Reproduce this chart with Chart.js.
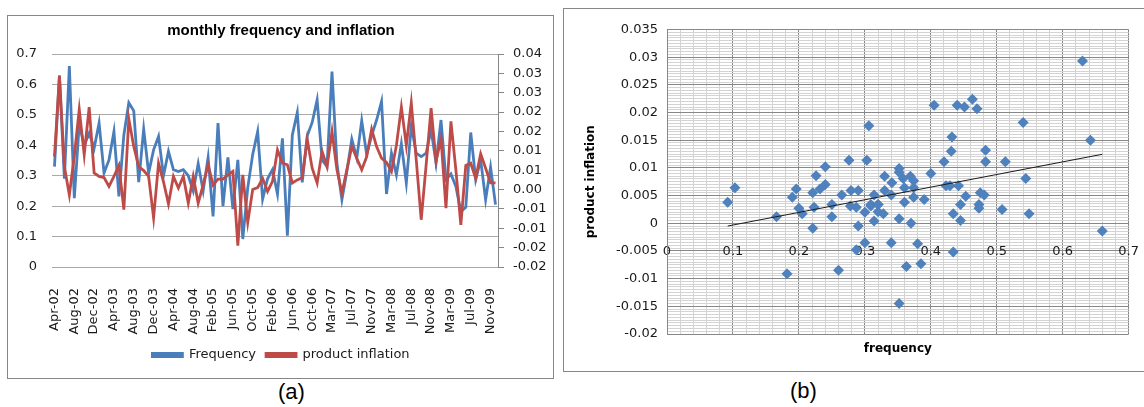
<!DOCTYPE html>
<html>
<head>
<meta charset="utf-8">
<script src="https://cdn.jsdelivr.net/npm/chart.js@4.4.1/dist/chart.umd.min.js"></script>
<style>
  body { margin: 0; width: 1144px; height: 407px; overflow: hidden; background: #fff; position: relative; font-family: 'Liberation Sans', Arial, sans-serif; }
  .frame { position: absolute; border: 1px solid #878787; background: #fff; overflow: hidden; }
  .frame canvas { position: absolute; left: 1px; top: 1px; }
  .cap { position: absolute; font-size: 22px; color: #000; }
</style>
</head>
<body>
<div class="frame" style="left:7px;top:15px;width:545px;height:362px;"><canvas id="lineChart" width="544" height="360"></canvas></div>
<div class="frame" style="left:563px;top:8px;width:600px;height:362px;"><canvas id="scatterChart" width="595" height="361"></canvas></div>
<div class="cap" style="left:278px;top:379px;">(a)</div>
<div class="cap" style="left:790px;top:378px;">(b)</div>

<script>
// ── data ──────────────────────────────────────────────
const months = [
  'Apr-02','May-02','Jun-02','Jul-02','Aug-02','Sep-02','Oct-02','Nov-02','Dec-02',
  'Jan-03','Feb-03','Mar-03','Apr-03','May-03','Jun-03','Jul-03','Aug-03','Sep-03','Oct-03','Nov-03','Dec-03',
  'Jan-04','Feb-04','Mar-04','Apr-04','May-04','Jun-04','Jul-04','Aug-04','Sep-04','Oct-04',
  'Jan-05','Feb-05','Mar-05','Apr-05','May-05','Jun-05','Jul-05','Aug-05','Sep-05','Oct-05','Nov-05','Dec-05',
  'Jan-06','Feb-06','Mar-06','Apr-06','May-06','Jun-06','Jul-06','Aug-06','Sep-06','Oct-06','Nov-06','Dec-06',
  'Feb-07','Mar-07','Apr-07','May-07','Jun-07','Jul-07','Aug-07','Sep-07','Oct-07','Nov-07','Dec-07',
  'Jan-08','Feb-08','Mar-08','Apr-08','May-08','Jun-08','Jul-08','Aug-08','Sep-08','Oct-08','Nov-08','Dec-08',
  'Jan-09','Feb-09','Mar-09','Apr-09','May-09','Jun-09','Jul-09','Aug-09','Sep-09','Oct-09','Nov-09','Dec-09'
];

const frequency = [
  0.33, 0.63, 0.29, 0.66, 0.226, 0.47, 0.40, 0.44, 0.39, 0.473,
  0.309, 0.352, 0.445, 0.232, 0.434, 0.54, 0.513, 0.279, 0.453, 0.309,
  0.385, 0.429, 0.30, 0.38, 0.32, 0.314, 0.32, 0.30, 0.25, 0.34,
  0.25, 0.36, 0.166, 0.473, 0.20, 0.36, 0.19, 0.352, 0.092, 0.26,
  0.37, 0.445, 0.223, 0.29, 0.32, 0.24, 0.423, 0.103, 0.434, 0.508,
  0.278, 0.431, 0.475, 0.549, 0.352, 0.33, 0.642, 0.34, 0.221, 0.314,
  0.42, 0.358, 0.481, 0.369, 0.432, 0.483, 0.544, 0.24, 0.374, 0.303,
  0.405, 0.276, 0.463, 0.374, 0.363, 0.374, 0.451, 0.341, 0.483, 0.287,
  0.306, 0.265, 0.182, 0.196, 0.442, 0.287, 0.352, 0.221, 0.328, 0.205
];

const inflation = [
  0.0085, 0.0293, 0.0059, -0.0014, 0.0086, 0.0207, 0.0090, 0.0213, 0.0043, 0.0034,
  0.0031, 0.0008, 0.0034, 0.0062, -0.0052, 0.0182, 0.0111, 0.0059, 0.0049, 0.0034,
  -0.0073, 0.0068, 0.0020, -0.0037, 0.0034, 0.0004, 0.0034, -0.0035, 0.0034, -0.0035,
  0.0012, 0.0064, 0.0012, 0.0027, 0.0027, 0.0038, 0.0047, -0.0145, 0.0038, -0.0085,
  0.0000, 0.0005, 0.0029, -0.0005, 0.0021, 0.0102, 0.0068, 0.0064, 0.0017, 0.0025,
  0.0031, 0.0130, 0.0055, 0.0017, 0.0099, 0.0059, 0.0150, 0.0051, -0.0009, 0.0051,
  0.0111, 0.0081, 0.0051, 0.0085, 0.0156, 0.0111, 0.0081, 0.0070, 0.0047, 0.0114,
  0.0213, 0.0114, 0.0224, 0.0077, -0.0078, 0.0064, 0.0210, 0.0073, 0.0132, -0.0048,
  0.0176, 0.0051, -0.0091, 0.0062, 0.0068, 0.0029, 0.0092, 0.0055, 0.0017, 0.0017
];

// tick labels (bottom to top / left to right)
const freqTickLabels  = ['0', '0.1', '0.2', '0.3', '0.4', '0.5', '0.6', '0.7'];
const inflTickLabels  = ['-0.02', '-0.02', '-0.01', '-0.01', '0.00', '0.01', '0.01', '0.02', '0.02', '0.03', '0.03', '0.04'];
const scatterXLabels  = ['0', '0.1', '0.2', '0.3', '0.4', '0.5', '0.6', '0.7'];
const scatterYLabels  = ['-0.02', '-0.015', '-0.01', '-0.005', '0', '0.005', '0.01', '0.015', '0.02', '0.025', '0.03', '0.035'];

// ── helpers ───────────────────────────────────────────
const TXT = '#1a1a1a';
const MAJOR = '#878787';
const MINOR = '#d3d3d3';

function majorIndex(v, base, step) {
  const k = (v - base) / step;
  return Math.abs(k - Math.round(k)) < 1e-6 ? Math.round(k) : -1;
}

// least squares trend over the scatter, drawn across the data range
function trendLine(xs, ys) {
  const n = xs.length;
  const mx = xs.reduce((a, b) => a + b, 0) / n;
  const my = ys.reduce((a, b) => a + b, 0) / n;
  let sxy = 0, sxx = 0;
  for (let i = 0; i < n; i++) {
    sxy += (xs[i] - mx) * (ys[i] - my);
    sxx += (xs[i] - mx) * (xs[i] - mx);
  }
  const b = sxy / sxx, a = my - b * mx;
  const x0 = Math.min(...xs), x1 = Math.max(...xs);
  return [{ x: x0, y: a + b * x0 }, { x: x1, y: a + b * x1 }];
}

Chart.defaults.font.family = "'DejaVu Sans', sans-serif";
Chart.defaults.color = TXT;

// ── (a) monthly frequency and inflation ───────────────
new Chart(document.getElementById('lineChart'), {
  type: 'line',
  data: {
    labels: months,
    datasets: [
      {
        label: 'Frequency', data: frequency, yAxisID: 'y',
        borderColor: '#4a7ebb', backgroundColor: '#4a7ebb',
        borderWidth: 2.8, pointRadius: 0, tension: 0, order: 1,
      },
      {
        label: 'product inflation', data: inflation, yAxisID: 'y1',
        borderColor: '#be4b48', backgroundColor: '#be4b48',
        borderWidth: 2.8, pointRadius: 0, tension: 0, order: 0,
      },
    ],
  },
  options: {
    responsive: false, animation: false, devicePixelRatio: 1,
    layout: { padding: { bottom: 5.5 } },
    plugins: {
      title: {
        display: true, text: 'monthly frequency and inflation', color: '#000',
        font: { family: "'Liberation Sans', Arial, sans-serif", size: 15, weight: 'bold', lineHeight: 1.2 },
        padding: { top: 4.5, bottom: 14.5 },
      },
      legend: {
        position: 'bottom', reverse: true,
        labels: { boxWidth: 30, boxHeight: 3, padding: 10, color: TXT, font: { size: 13 } },
      },
      tooltip: { enabled: false },
    },
    scales: {
      x: {
        offset: true,
        grid: { display: false },
        border: { display: false },
        ticks: {
          autoSkip: false, minRotation: 90, maxRotation: 90, padding: 13,
          font: { size: 13 },
          callback: (v, i) => (i % 4 === 0 ? months[i] : ''),
        },
        afterFit: s => { s.height = 71.5; },
      },
      y: {
        position: 'left', min: 0, max: 0.7,
        ticks: { stepSize: 0.1, padding: 15, font: { size: 13 }, callback: (v, i) => freqTickLabels[i] },
        grid: { color: '#a9a9a9', drawTicks: false },
        border: { display: false },
        afterFit: s => { s.width = 43; },
      },
      y1: {
        position: 'right', min: -0.02, max: 0.035,
        ticks: { stepSize: 0.005, padding: 9, font: { size: 13 }, callback: (v, i) => inflTickLabels[i] },
        grid: { drawOnChartArea: false, tickLength: 6, color: MAJOR },
        border: { display: true, color: MAJOR },
        afterFit: s => { s.width = 55; },
      },
    },
  },
});

// ── (b) frequency vs product inflation ────────────────
const points = frequency.map((f, i) => ({ x: f, y: inflation[i] }));

new Chart(document.getElementById('scatterChart'), {
  type: 'scatter',
  data: {
    datasets: [
      {
        type: 'line', label: 'Linear trend', data: trendLine(frequency, inflation),
        borderColor: '#1a1a1a', borderWidth: 1, pointRadius: 0, order: 0,
      },
      {
        label: 'product inflation', data: points,
        pointStyle: 'rectRot', pointRadius: 5.5,
        backgroundColor: '#4f81bd', borderColor: '#4f81bd', borderWidth: 0, order: 1,
      },
    ],
  },
  options: {
    responsive: false, animation: false, devicePixelRatio: 1,
    layout: { padding: { top: 19.5, right: 26 } },
    plugins: { legend: { display: false }, tooltip: { enabled: false } },
    scales: {
      x: {
        type: 'linear', position: { y: 0 }, min: 0, max: 0.7,
        ticks: {
          stepSize: 0.02, autoSkip: false, maxRotation: 0, padding: 21, font: { size: 13 },
          callback: v => { const k = majorIndex(v, 0, 0.1); return k >= 0 ? scatterXLabels[k] : ''; },
        },
        grid: { drawTicks: false, color: c => (majorIndex(c.tick.value, 0, 0.1) >= 0 ? MAJOR : MINOR) },
        border: { color: MAJOR },
        afterFit: s => { s.height = 0; },
      },
      x2: {
        type: 'linear', position: 'bottom', min: 0, max: 0.7,
        grid: { display: false }, border: { display: false }, ticks: { display: false },
        title: {
          display: true, text: 'frequency', color: '#000',
          font: { size: 12, weight: 'bold', lineHeight: 1.2 }, padding: { top: 0, bottom: 15 },
        },
        afterFit: s => { s.height = 37; },
      },
      y: {
        min: -0.02, max: 0.035,
        ticks: {
          stepSize: 0.0005, autoSkip: false, padding: 9, font: { size: 13 },
          callback: v => { const k = majorIndex(v, -0.02, 0.005); return k >= 0 ? scatterYLabels[k] : ''; },
        },
        grid: { drawTicks: false, color: c => (majorIndex(c.tick.value, -0.02, 0.005) >= 0 ? MAJOR : MINOR) },
        border: { color: MAJOR },
        title: {
          display: true, text: 'product inflation', color: '#000',
          font: { size: 12, weight: 'bold', lineHeight: 1.2 }, padding: { top: 19, bottom: 0 },
        },
        afterFit: s => { s.width = 102; },
      },
    },
  },
});
</script>
</body>
</html>
